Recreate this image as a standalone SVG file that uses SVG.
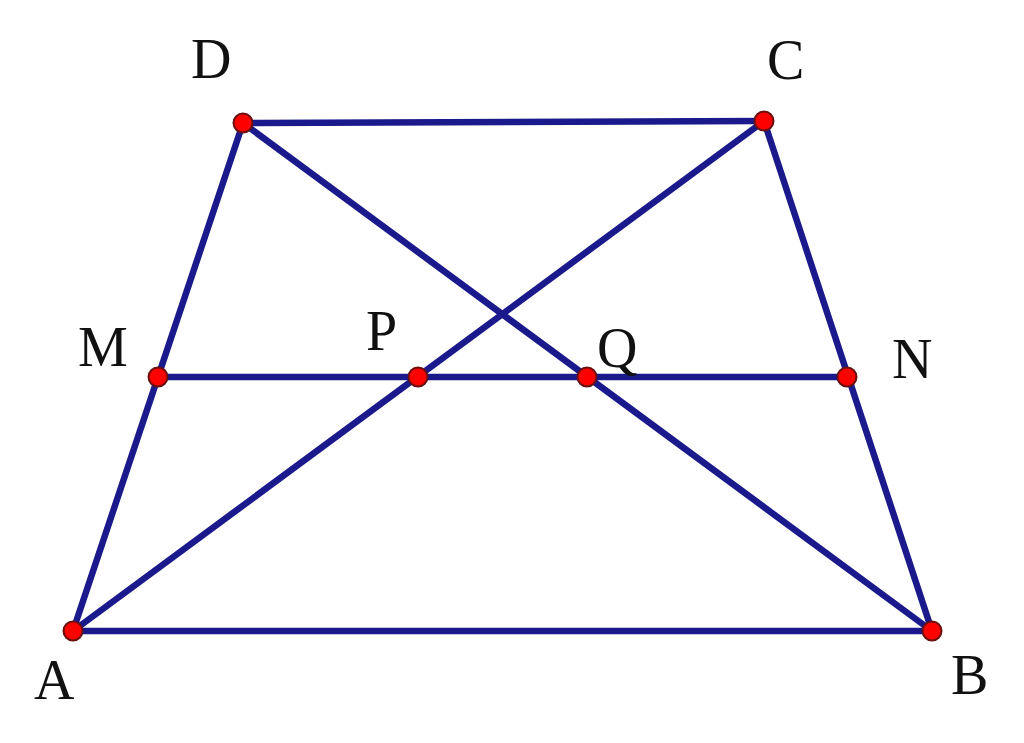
<svg xmlns="http://www.w3.org/2000/svg" width="1024" height="743" viewBox="0 0 1024 743">
<style>
.e{stroke:#1a1a8c;stroke-width:6.5;stroke-linecap:round;fill:none}
.p{fill:#ff0000;stroke:#6a1010;stroke-width:2}
.l{font-family:"Liberation Serif",serif;font-size:56px;fill:#111}
</style>
<rect width="1024" height="743" fill="#ffffff"/>
<g id="connectors">
<line class="e" x1="243" y1="123" x2="764" y2="121"/>
<line class="e" x1="243" y1="123" x2="73" y2="631"/>
<line class="e" x1="764" y1="121" x2="932" y2="631"/>
<line class="e" x1="73" y1="631" x2="932" y2="631"/>
<line class="e" x1="243" y1="123" x2="932" y2="631"/>
<line class="e" x1="764" y1="121" x2="73" y2="631"/>
<line class="e" x1="158" y1="377" x2="847" y2="377"/>
</g>
<g id="D"><circle class="p" cx="243" cy="123" r="9.5"/><text class="l" x="191" y="78">D</text></g>
<g id="C"><circle class="p" cx="764" cy="121" r="9.5"/><text class="l" x="767" y="79">C</text></g>
<g id="M"><circle class="p" cx="158" cy="377" r="9.5"/><text class="l" x="78" y="366">M</text></g>
<g id="P"><circle class="p" cx="418" cy="377" r="9.5"/><text class="l" x="366" y="350">P</text></g>
<g id="Q"><circle class="p" cx="587" cy="377" r="9.5"/><text class="l" x="597" y="367">Q</text></g>
<g id="N"><circle class="p" cx="847" cy="377" r="9.5"/><text class="l" x="892" y="378">N</text></g>
<g id="A"><circle class="p" cx="73" cy="631" r="9.5"/><text class="l" x="34" y="699">A</text></g>
<g id="B"><circle class="p" cx="932" cy="631" r="9.5"/><text class="l" x="951" y="694">B</text></g>
</svg>
